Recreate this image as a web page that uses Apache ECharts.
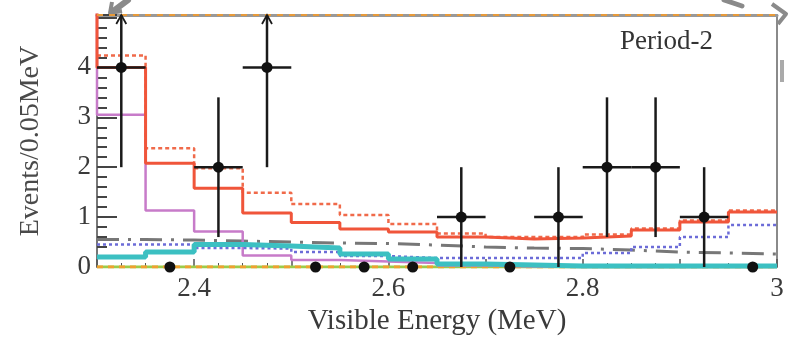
<!DOCTYPE html>
<html>
<head>
<meta charset="utf-8">
<script src="https://cdn.jsdelivr.net/npm/echarts@6/dist/echarts.min.js"></script>
<style>
  html, body { margin: 0; padding: 0; background: #fff; }
  #chart { width: 792px; height: 341px; }
</style>
</head>
<body>
<div id="chart"></div>
<script>
// bin edges of the 0.05 MeV histogram
const binEdges = [2.30, 2.35, 2.40, 2.45, 2.50, 2.55, 2.60, 2.65, 2.70, 2.75, 2.80, 2.85, 2.90, 2.95, 3.00];

// data points (bin centres), counts and error bar ends
const dataX = [2.325, 2.375, 2.425, 2.475, 2.525, 2.575, 2.625, 2.675, 2.725, 2.775, 2.825, 2.875, 2.925, 2.975];
const counts = [4, 0, 2, 4, 0, 0, 0, 1, 0, 1, 2, 2, 1, 0];
const errLow = [2, 0, 0.6, 2, 0, 0, 0, 0, 0, 0, 0.6, 0.6, 0, 0];
const errHigh = [6, 0, 3.4, 6, 0, 0, 0, 2, 0, 2, 3.4, 3.4, 2, 0];

// histograms (one value per bin); *Prev = value of the bin just left of the range
const bestFitPrev = 5.6;
const bestFit = [4.0, 2.08, 1.58, 1.08, 0.89, 0.76, 0.7, 0.6, 0.56, 0.58, 0.62, 0.74, 0.9, 1.1];
const altFit = [4.24, 2.38, 1.98, 1.49, 1.26, 1.04, 0.86, 0.67, 0.6, 0.6, 0.65, 0.77, 0.93, 1.13];
const magentaPrev = 5.5;
const magentaBkg = [3.05, 1.13, 0.71, 0.23, 0.14, 0.11, 0.08, 0.03, 0.01, 0, 0, 0, 0, 0];
const cyanBkg = [0.2, 0.3, 0.45, 0.42, 0.38, 0.26, 0.16, 0.06, 0.04, 0.02, 0.02, 0.02, 0.02, 0.02];
const blueBkg = [0.45, 0.45, 0.38, 0.37, 0.3, 0.22, 0.18, 0.18, 0.18, 0.18, 0.28, 0.4, 0.6, 0.84];
const grayBkg = [0.55, 0.54, 0.52, 0.5, 0.48, 0.47, 0.44, 0.4, 0.38, 0.37, 0.34, 0.3, 0.28, 0.26];
const zeroBkg = [0, 0, 0, 0, 0, 0, 0, 0, 0, 0, 0, 0, 0, 0];

const Y_MAX = 5.05;
const BIN_HALF = (binEdges[1] - binEdges[0]) / 2;
const FONT = "'Liberation Serif', 'DejaVu Serif', serif";

function steps(vals, prev) {
  const pts = [];
  if (prev != null) pts.push([binEdges[0], prev]);
  vals.forEach((v, i) => pts.push([binEdges[i], v]));
  pts.push([binEdges[binEdges.length - 1], vals[vals.length - 1]]);
  return pts;
}

function hist(name, vals, prev, color, width, type, z) {
  return {
    name, type: 'line', step: 'end', data: steps(vals, prev),
    symbol: 'none', clip: true, z,
    lineStyle: { color, width, type },
    emphasis: { disabled: true }
  };
}

const chart = echarts.init(document.getElementById('chart'));

const option = {
  animation: false,
  grid: { left: 97, right: 15, top: 15, bottom: 74, outerBoundsMode: 'none' },
  xAxis: [{
    type: 'value', min: 2.3, max: 3.0, interval: 0.1,
    name: 'Visible Energy (MeV)', nameLocation: 'middle', nameGap: 40,
    nameTextStyle: { fontFamily: FONT, fontSize: 29, color: '#3a3a3a' },
    axisLine: { lineStyle: { color: '#8a8a8a', width: 2 } },
    axisTick: { inside: true, length: 8, lineStyle: { color: '#555', width: 1.5 } },
    minorTick: { show: true, splitNumber: 4, length: 4, lineStyle: { color: '#555' } },
    axisLabel: {
      fontFamily: FONT, fontSize: 27, color: '#3a3a3a', margin: 8,
      formatter: v => {
        const t = Math.round(v * 10);
        if (t % 2 !== 0 || t === 23) return '';
        return t === 30 ? '3' : (t / 10).toFixed(1);
      }
    },
    splitLine: { show: false }
  }, {
    type: 'value', min: 2.3, max: 3.0, position: 'top',
    axisLine: { onZero: false, lineStyle: { color: '#999', width: 3 } },
    axisTick: { show: false }, axisLabel: { show: false }, splitLine: { show: false }
  }],
  yAxis: [{
    type: 'value', min: 0, max: Y_MAX, interval: 1,
    name: 'Events/0.05MeV', nameLocation: 'middle', nameGap: 52,
    nameTextStyle: { fontFamily: FONT, fontSize: 28, color: '#4a4a4a' },
    axisLine: { show: true, lineStyle: { color: '#777', width: 2 } },
    axisTick: { inside: true, length: 20, lineStyle: { color: '#444', width: 2 } },
    minorTick: { show: true, splitNumber: 5, length: 10, lineStyle: { color: '#444', width: 2 } },
    axisLabel: {
      fontFamily: FONT, fontSize: 27, color: '#3a3a3a', margin: 6,
      formatter: v => (v > 4.5 ? '' : String(v))
    },
    splitLine: { show: false }
  }, {
    type: 'value', min: 0, max: Y_MAX, position: 'right',
    axisLine: { show: true, lineStyle: { color: '#8a8a8a', width: 2 } },
    axisTick: { show: false }, axisLabel: { show: false }, splitLine: { show: false }
  }],
  series: [
    hist('green', zeroBkg, null, '#9ccc4a', 3, 'solid', 2),
    hist('orange', zeroBkg, null, '#f0a030', 3, [6, 5], 3),
    hist('gray', grayBkg, null, '#777', 3, [22, 9, 3, 9], 4),
    hist('magenta', magentaBkg, magentaPrev, '#c77bc9', 2.5, 'solid', 5),
    hist('blue', blueBkg, null, '#6c6cd8', 2.5, [3, 3], 6),
    hist('cyan', cyanBkg, null, '#3cc0c2', 5, 'solid', 7),
    hist('altFit', altFit, null, '#f06a4a', 2.5, [4, 3], 8),
    hist('bestFit', bestFit, bestFitPrev, '#f0553a', 3, 'solid', 9),
    {
      name: 'top', type: 'line', data: [[binEdges[0], Y_MAX], [binEdges[binEdges.length - 1], Y_MAX]],
      symbol: 'none', z: 10, clip: false,
      lineStyle: { color: '#e79a3a', width: 2, type: [6, 6] }
    },
    {
      name: 'data', type: 'custom', z: 20,
      data: dataX.map((x, i) => [x, counts[i], errLow[i], errHigh[i]]),
      renderItem: (params, api) => {
        const x = api.value(0), y = api.value(1), lo = api.value(2), hi = api.value(3);
        const c = api.coord([x, y]);
        const top = api.coord([x, Math.min(hi, Y_MAX)]);
        const bot = api.coord([x, lo]);
        const l = api.coord([x - BIN_HALF, y]);
        const r = api.coord([x + BIN_HALF, y]);
        const stroke = { stroke: '#1a1a1a', lineWidth: 2.5 };
        const children = [];
        if (hi > lo) {
          children.push({ type: 'line', shape: { x1: c[0], y1: bot[1], x2: c[0], y2: top[1] }, style: stroke });
          children.push({ type: 'line', shape: { x1: l[0], y1: c[1], x2: r[0], y2: r[1] }, style: stroke });
        }
        if (hi > Y_MAX) {
          children.push({
            type: 'polyline',
            shape: { points: [[top[0] - 5, top[1] + 9], [top[0], top[1]], [top[0] + 5, top[1] + 9]] },
            style: { stroke: '#1a1a1a', lineWidth: 1.8, fill: null }
          });
        }
        children.push({ type: 'circle', shape: { cx: c[0], cy: c[1], r: 5.5 }, style: { fill: '#111' } });
        return { type: 'group', children };
      }
    }
  ],
  graphic: [
    {
      type: 'text', left: 620, top: 28,
      style: { text: 'Period-2', font: "27px 'Liberation Serif', serif", fill: '#333' }
    },
    {
      type: 'polyline', silent: true,
      shape: { points: [[128, 0], [112, 12]] },
      style: { stroke: '#8a8a8a', lineWidth: 6, lineCap: 'round' }
    },
    {
      type: 'polyline', silent: true,
      shape: { points: [[112, 2], [110, 13], [122, 11]] },
      style: { stroke: '#8a8a8a', lineWidth: 4, fill: null, lineJoin: 'round' }
    },
    {
      type: 'polyline', silent: true,
      shape: { points: [[724, 0], [742, 6]] },
      style: { stroke: '#8a8a8a', lineWidth: 5, lineCap: 'round' }
    },
    {
      type: 'polyline', silent: true,
      shape: { points: [[772, 4], [786, 14], [778, 24]] },
      style: { stroke: '#8a8a8a', lineWidth: 4, fill: null, lineJoin: 'round' }
    },
    {
      type: 'rect', silent: true,
      shape: { x: 780, y: 60, width: 4, height: 22 },
      style: { fill: '#aaa' }
    }
  ]
};

chart.setOption(option);
window.addEventListener('resize', () => chart.resize());
</script>
</body>
</html>
